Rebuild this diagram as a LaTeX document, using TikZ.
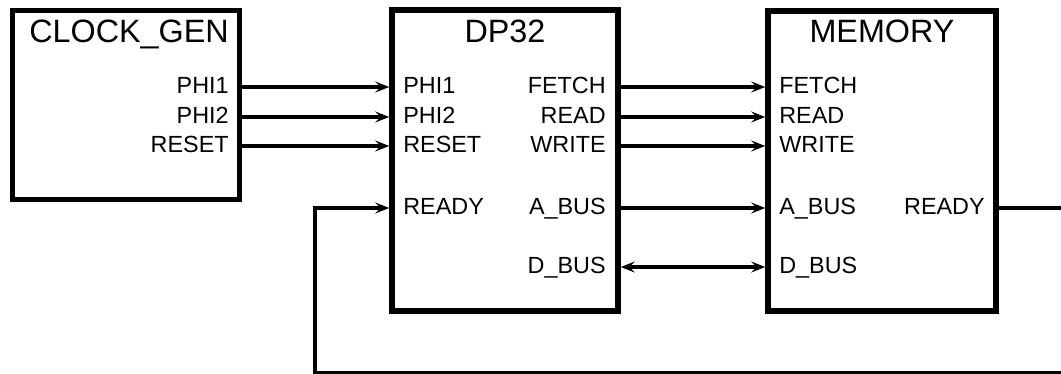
\documentclass[tikz,border=0pt]{standalone}
\usepackage{fontspec}
\setmainfont{Liberation Sans}
\usetikzlibrary{arrows.meta}
\tikzset{
  block/.style={draw=black, line width=3.2pt, inner sep=0pt},
  title/.style={font=\fontsize{18.4}{21}\selectfont, text height=1.38ex, text depth=0pt, inner sep=0pt},
  port/.style={font=\fontsize{13.3}{16}\selectfont, text height=1.38ex, text depth=0pt, inner sep=0pt},
  sig/.style={-{Stealth[length=2.8mm, width=2.2mm, inset=1.1mm]}, line width=2pt},
  bus/.style={{Stealth[length=2.8mm, width=2.2mm, inset=1.1mm]}-{Stealth[length=2.8mm, width=2.2mm, inset=1.1mm]}, line width=2pt},
  fb/.style={sig, line width=1.9pt},
}

\begin{document}
\begin{tikzpicture}[x=0.02cm, y=-0.02cm]
  \useasboundingbox (0,0) rectangle (1061,374);
  % the three blocks
  \node[block, minimum width=4.54cm, minimum height=3.78cm] (cg) at (126,105) {};
  \node[block, minimum width=4.52cm, minimum height=6.02cm] (dp) at (505,160.5) {};
  \node[block, minimum width=4.56cm, minimum height=6cm] (mem) at (882,161) {};
  \node[title] (cgname) at (129,36) {CLOCK\_GEN};
  \node[title] (dpname) at (505,36) {DP32};
  \node[title] (memname) at (882,36) {MEMORY};
  % clock and reset
  \foreach \n/\t/\y in {phi1/PHI1/87, phi2/PHI2/117, reset/RESET/146} {
    \node[port, anchor=east] (cg\n) at (229,\y) {\t};
    \node[port, anchor=west] (dpi\n) at (403,\y) {\t};
    \draw[sig] (cg\n -| cg.east) -- (dpi\n -| dp.west);
  }
  \node[port, anchor=west] (dpiready) at (403,208) {READY};
  % control and address
  \foreach \n/\t/\y in {fetch/FETCH/87, read/READ/117, write/WRITE/146, abus/A\_BUS/208} {
    \node[port, anchor=east] (dpo\n) at (606,\y) {\t};
    \node[port, anchor=west] (mem\n) at (779,\y) {\t};
    \draw[sig] (dpo\n -| dp.east) -- (mem\n -| mem.west);
  }
  \node[port, anchor=east] (dpodbus) at (606,267) {D\_BUS};
  \node[port, anchor=west] (memdbus) at (779,267) {D\_BUS};
  \draw[bus] (dpodbus -| dp.east) -- (memdbus -| mem.west);
  % ready feedback
  \node[port, anchor=east] (memready) at (985,208) {READY};
  \coordinate (turnR) at (1080,372.5);
  \coordinate (turnL) at (315,372.5);
  \draw[fb] (memready -| mem.east) -- (turnR |- memready) -- (turnR) -- (turnL)
    -- (turnL |- dpiready) -- (dpiready -| dp.west);
\end{tikzpicture}
\end{document}
